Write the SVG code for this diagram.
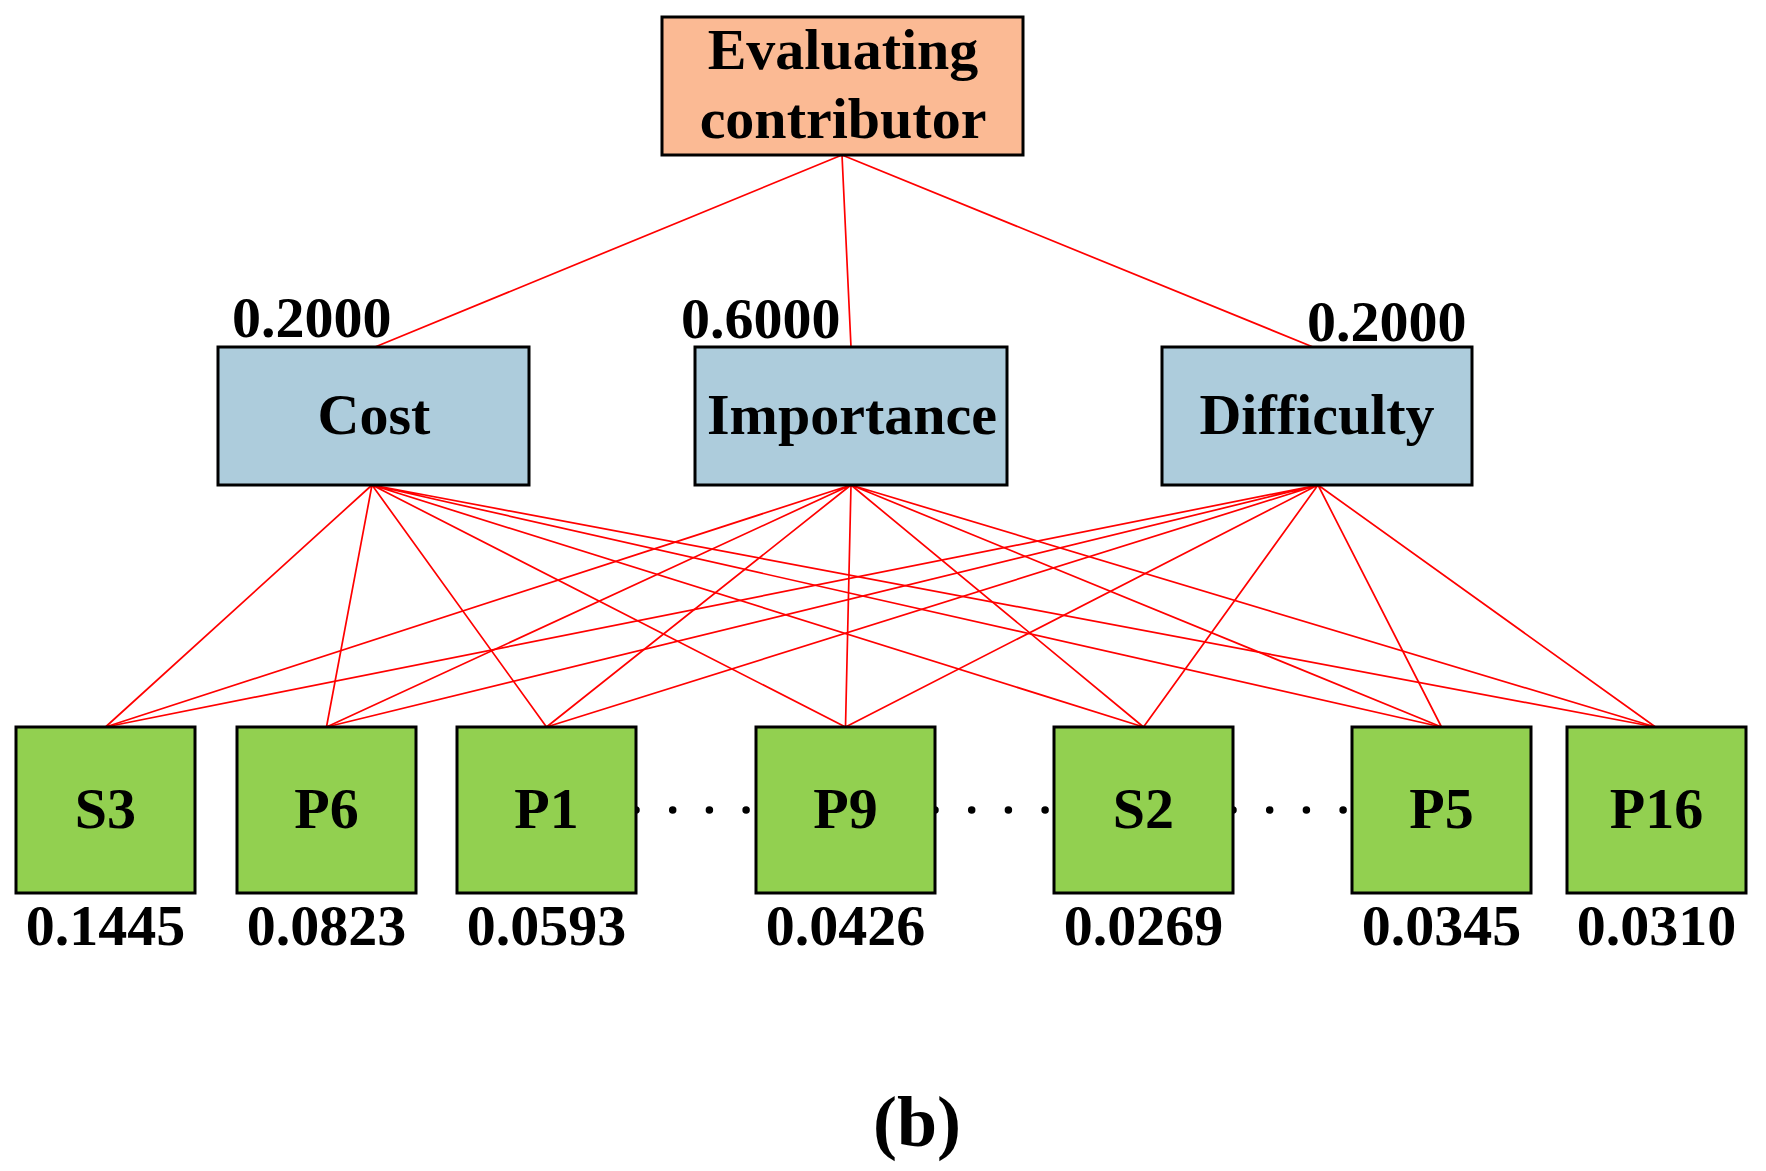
<svg xmlns="http://www.w3.org/2000/svg" width="1766" height="1171" viewBox="0 0 1766 1171">
<style>
text{font-family:"Liberation Serif","Times New Roman",serif;font-weight:bold;font-size:58px;fill:#000}
.c{text-anchor:middle}
.box{stroke:#000;stroke-width:3}
.top{fill:#FBBA94}
.mid{fill:#ADCCDC}
.leaf{fill:#92D050}
.ln{stroke:#FF0000;stroke-width:1.7;fill:none}
.dots{stroke:#000;stroke-width:7.5;stroke-linecap:round;stroke-dasharray:0 36.7;fill:none}
</style>
<rect width="1766" height="1171" fill="#fff"/>
<g id="connectors">
<path class="ln" d="M842 155L375 347M842 155L851 347M842 155L1313 347"/>
<path class="ln" d="M372 485L105.5 727M372 485L326.5 727M372 485L546.5 727M372 485L845.5 727M372 485L1143.5 727M372 485L1441.5 727M372 485L1655.5 727"/>
<path class="ln" d="M851 485L105.5 727M851 485L326.5 727M851 485L546.5 727M851 485L845.5 727M851 485L1143.5 727M851 485L1441.5 727M851 485L1655.5 727"/>
<path class="ln" d="M1318 485L105.5 727M1318 485L326.5 727M1318 485L546.5 727M1318 485L845.5 727M1318 485L1143.5 727M1318 485L1441.5 727M1318 485L1655.5 727"/>
</g>
<g id="dots">
<path class="dots" d="M636 810H750M935 810H1048M1233 810H1346"/>
</g>
<g id="root">
<rect class="box top" x="662" y="17" width="361" height="138"/>
<text class="c" x="843" y="69">Evaluating</text>
<text class="c" x="843" y="138">contributor</text>
</g>
<g id="cost">
<rect class="box mid" x="218" y="347" width="311" height="138"/>
<text class="c" x="374" y="434">Cost</text>
<text x="232" y="337">0.2000</text>
</g>
<g id="importance">
<rect class="box mid" x="695" y="347" width="312" height="138"/>
<text class="c" x="852" y="434">Importance</text>
<text x="681" y="338">0.6000</text>
</g>
<g id="difficulty">
<rect class="box mid" x="1162" y="347" width="310" height="138"/>
<text class="c" x="1317" y="434">Difficulty</text>
<text x="1307" y="341">0.2000</text>
</g>
<g id="S3">
<rect class="box leaf" x="16" y="727" width="179" height="166"/>
<text class="c" x="105.5" y="828">S3</text>
<text class="c" x="105.5" y="945">0.1445</text>
</g>
<g id="P6">
<rect class="box leaf" x="237" y="727" width="179" height="166"/>
<text class="c" x="326.5" y="828">P6</text>
<text class="c" x="326.5" y="945">0.0823</text>
</g>
<g id="P1">
<rect class="box leaf" x="457" y="727" width="179" height="166"/>
<text class="c" x="546.5" y="828">P1</text>
<text class="c" x="546.5" y="945">0.0593</text>
</g>
<g id="P9">
<rect class="box leaf" x="756" y="727" width="179" height="166"/>
<text class="c" x="845.5" y="828">P9</text>
<text class="c" x="845.5" y="945">0.0426</text>
</g>
<g id="S2">
<rect class="box leaf" x="1054" y="727" width="179" height="166"/>
<text class="c" x="1143.5" y="828">S2</text>
<text class="c" x="1143.5" y="945">0.0269</text>
</g>
<g id="P5">
<rect class="box leaf" x="1352" y="727" width="179" height="166"/>
<text class="c" x="1441.5" y="828">P5</text>
<text class="c" x="1441.5" y="945">0.0345</text>
</g>
<g id="P16">
<rect class="box leaf" x="1567" y="727" width="179" height="166"/>
<text class="c" x="1656.5" y="828">P16</text>
<text class="c" x="1656.5" y="945">0.0310</text>
</g>
<text class="c" x="917" y="1146" style="font-size:72px">(b)</text>
</svg>
